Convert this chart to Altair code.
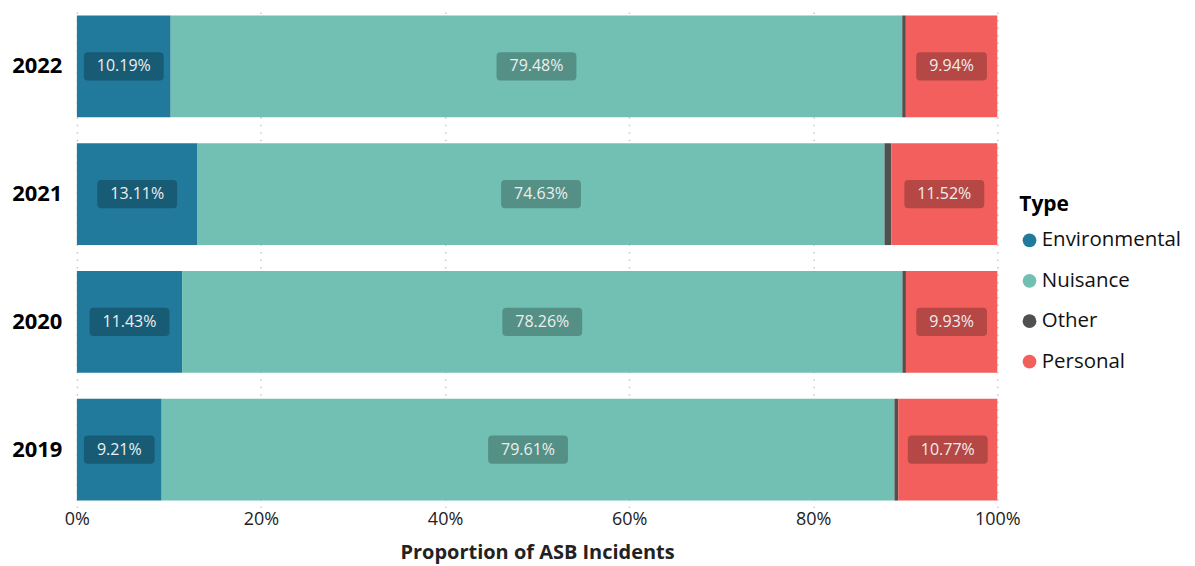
import altair as alt
import pandas as pd

years = ["2022", "2021", "2020", "2019"]
types = ["Environmental", "Nuisance", "Other", "Personal"]
environmental = [10.19, 13.11, 11.43, 9.21]
nuisance = [79.48, 74.63, 78.26, 79.61]
other = [0.39, 0.74, 0.38, 0.41]
personal = [9.94, 11.52, 9.93, 10.77]
colors = ["#217A9B", "#71C0B3", "#505050", "#F25F5C"]

rows = []
for i, y in enumerate(years):
    for j, (t, v) in enumerate(zip(types, [environmental[i], nuisance[i], other[i], personal[i]])):
        lab = f"{v:.2f}%"
        rows.append({"year": y, "type": t, "value": v, "order": j,
                     "label": lab if t != "Other" else "",
                     "len": "long" if len(lab) >= 6 else "short"})
df = pd.DataFrame(rows)

FONT = "Open Sans"

def rr(w, h, r):
    return (f"M {-w + r},{-h} L {w - r},{-h} Q {w},{-h} {w},{-h + r} L {w},{h - r} "
            f"Q {w},{h} {w - r},{h} L {-w + r},{h} Q {-w},{h} {-w},{h - r} "
            f"L {-w},{-h + r} Q {-w},{-h} {-w + r},{-h} Z")

path_long = rr(1.0, 0.354, 0.1)
path_short = rr(0.886, 0.354, 0.1)

base = alt.Chart(df).transform_stack(
    stack="value", groupby=["year"], as_=["x0", "x1"], offset="normalize",
    sort=[alt.SortField("order", order="ascending")]
).transform_calculate(mid="(datum.x0 + datum.x1) / 2")

yenc = alt.Y("year:N", sort=years, title=None,
             scale=alt.Scale(paddingInner=0.203, paddingOuter=0.055),
             axis=alt.Axis(labelFontSize=22, labelFontWeight="bold", labelColor="#000000",
                           labelFont=FONT, labelPadding=15, domain=False, ticks=False, grid=False))

bars = base.mark_bar().encode(
    x=alt.X("x0:Q", scale=alt.Scale(domain=[0, 1], nice=False),
            title="Proportion of ASB Incidents",
            axis=alt.Axis(format="%", values=[0, 0.2, 0.4, 0.6, 0.8, 1.0], labelFontSize=18,
                          labelFont=FONT, labelColor="#222222", labelPadding=3, labelFlush=False,
                          titleFont=FONT, titleFontSize=20, titleFontWeight="bold",
                          titleColor="#222222", titlePadding=14,
                          domain=False, ticks=False, grid=True, gridColor="#c8c8c8",
                          gridDash=[1.5, 6], gridWidth=1.5)),
    x2="x1:Q",
    y=yenc,
    color=alt.Color("type:N", scale=alt.Scale(domain=types, range=colors),
                    legend=alt.Legend(title="Type", orient="none", legendX=944, legendY=186,
                                      titleFont=FONT, titleFontSize=21, titleFontWeight="bold",
                                      titleColor="#000000", titlePadding=15,
                                      labelFont=FONT, labelFontSize=20.5, labelColor="#111111",
                                      labelOffset=2, symbolType="circle", symbolSize=190,
                                      symbolStrokeWidth=0, rowPadding=19.5,
                                      labelLimit=300)),
    order=alt.Order("order:Q"),
)

boxes = base.transform_filter("datum.type != 'Other'").mark_point(
    filled=True, fill="#000000", fillOpacity=0.25, strokeWidth=0, size=6400
).encode(
    x="mid:Q",
    y=alt.Y("year:N", sort=years),
    shape=alt.Shape("len:N", scale=alt.Scale(domain=["long", "short"], range=[path_long, path_short]),
                    legend=None),
)

texts = base.transform_filter("datum.type != 'Other'").mark_text(
    font=FONT, fontSize=16, color="#eeeeee"
).encode(
    x="mid:Q",
    y=alt.Y("year:N", sort=years),
    text="label:N",
)

chart = alt.layer(bars, boxes, texts).properties(
    width=922, height=500,
    autosize=alt.AutoSizeParams(type="none"),
    padding={"left": 69, "top": 0, "right": 190, "bottom": 58},
).configure(background="white").configure_view(stroke=None)

chart.save("out.html", embed_options={"renderer": "svg", "actions": False})
